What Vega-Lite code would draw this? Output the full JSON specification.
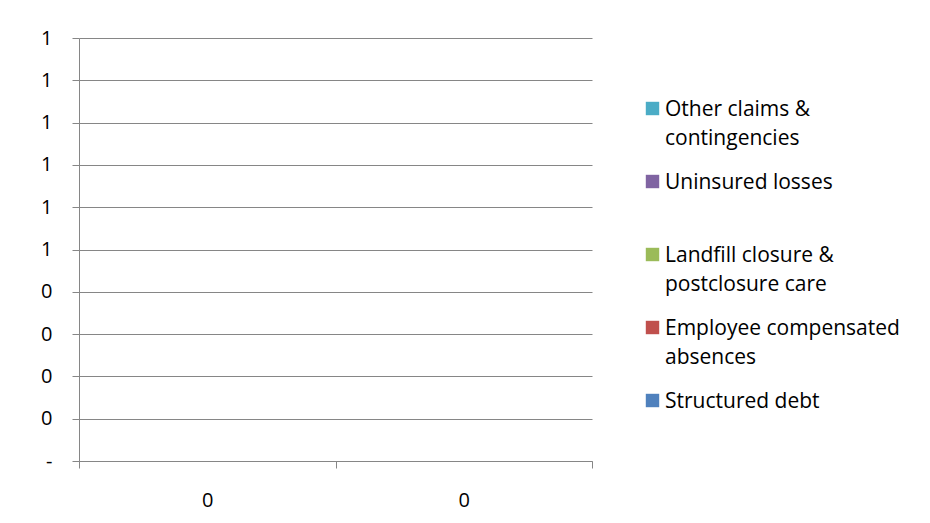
{
  "$schema": "https://vega.github.io/schema/vega-lite/v6.json",
  "width": 513,
  "height": 423,
  "autosize": {"type": "none"},
  "padding": {"left": 79, "top": 38, "right": 338, "bottom": 62},
  "background": "white",
  "config": {
    "view": {"stroke": null},
    "font": "Open Sans",
    "axis": {
      "domainColor": "#868686",
      "tickColor": "#868686",
      "gridColor": "#868686",
      "domainWidth": 1,
      "tickWidth": 1,
      "gridWidth": 1,
      "labelColor": "#000000",
      "labelFont": "Open Sans",
      "labelFontSize": 20,
      "tickSize": 7,
      "title": null
    }
  },
  "data": {
    "values": [
      {"period": 0.1, "series": "Structured debt", "value": 0},
      {"period": 0.1, "series": "Employee compensated absences", "value": 0},
      {"period": 0.1, "series": "Landfill closure & postclosure care", "value": 0},
      {"period": 0.1, "series": "Uninsured losses", "value": 0},
      {"period": 0.1, "series": "Other claims & contingencies", "value": 0},
      {"period": 0.2, "series": "Structured debt", "value": 0},
      {"period": 0.2, "series": "Employee compensated absences", "value": 0},
      {"period": 0.2, "series": "Landfill closure & postclosure care", "value": 0},
      {"period": 0.2, "series": "Uninsured losses", "value": 0},
      {"period": 0.2, "series": "Other claims & contingencies", "value": 0}
    ]
  },
  "mark": {"type": "bar"},
  "encoding": {
    "x": {
      "field": "period",
      "type": "ordinal",
      "scale": {"paddingInner": 0, "paddingOuter": 0},
      "axis": {
        "title": null,
        "labelAngle": 0,
        "format": ".0f",
        "tickBand": "extent",
        "grid": false,
        "labelPadding": 22
      }
    },
    "y": {
      "field": "value",
      "type": "quantitative",
      "stack": "zero",
      "scale": {"domain": [0, 1], "nice": false},
      "axis": {
        "title": null,
        "grid": true,
        "values": [0, 0.1, 0.2, 0.3, 0.4, 0.5, 0.6, 0.7, 0.8, 0.9, 1],
        "labelExpr": "datum.value < 0.05 ? '-' : format(round(datum.value), 'd')",
        "labelPadding": 20
      }
    },
    "color": {
      "field": "series",
      "type": "nominal",
      "scale": {
        "domain": ["Other claims & contingencies", "Uninsured losses", "Landfill closure & postclosure care", "Employee compensated absences", "Structured debt"],
        "range": ["#4BACC6", "#8064A2", "#9BBB59", "#C0504D", "#4F81BD"]
      },
      "legend": {
        "title": null,
        "orient": "none",
        "legendX": 563,
        "legendY": 60,
        "padding": 0,
        "symbolType": "square",
        "symbolSize": 180,
        "symbolStrokeWidth": 0,
        "symbolOpacity": 1,
        "labelFont": "Open Sans",
        "labelFontSize": 21,
        "labelColor": "#000000",
        "labelOffset": 2,
        "labelLimit": 400,
        "labelBaseline": "top",
        "gridAlign": "all",
        "rowPadding": 22,
        "labelExpr": "datum.label == 'Other claims & contingencies' ? ['Other claims &', 'contingencies'] : datum.label == 'Landfill closure & postclosure care' ? ['Landfill closure &', 'postclosure care'] : datum.label == 'Employee compensated absences' ? ['Employee compensated', 'absences'] : datum.label",
        "encode": {
          "labels": {"update": {"dy": {"value": -10}, "lineHeight": {"value": 29}}}
        }
      }
    },
    "order": {"field": "series"}
  }
}
